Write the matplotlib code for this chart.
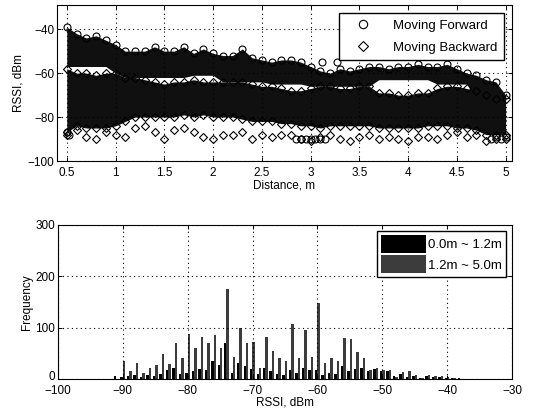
import numpy as np
import matplotlib
matplotlib.use("Agg")
import matplotlib.pyplot as plt
import matplotlib.transforms as mtransforms

plt.rcParams["font.family"] = ["Liberation Sans", "DejaVu Sans"]
plt.rcParams["font.size"] = 8.5

# ---- top plot: RSSI vs distance (envelopes, every 0.1 m) ----
distance = np.round(np.arange(0.5, 5.01, 0.1), 2)

fwd_top = [-39, -42, -44, -43, -45, -47, -50, -50, -50, -48,
           -50, -50, -48, -51, -49, -51, -52, -52, -49, -53,
           -54, -55, -54, -54, -55, -57, -59, -60, -58, -59,
           -58, -57, -57, -58, -57, -57, -56, -57, -57, -56,
           -58, -60, -61, -63, -64, -70]
fwd_low = [-57, -57, -57, -57, -57, -60, -62, -62, -62, -62,
           -62, -62, -62, -61, -61, -61, -64, -64, -64, -64,
           -64, -65, -65, -65, -65, -66, -66, -66, -66, -66,
           -66, -66, -63, -63, -63, -63, -63, -63, -65, -65,
           -65, -65, -72, -72, -72, -72]
bwd_top = [-58, -60, -60, -61, -60, -60, -62, -62, -63, -64,
           -65, -64, -64, -63, -64, -64, -64, -64, -64, -65,
           -66, -66, -67, -68, -68, -67, -66, -66, -67, -67,
           -66, -66, -69, -69, -70, -70, -69, -69, -67, -66,
           -66, -67, -68, -70, -72, -72]
bwd_core = [-87, -84, -85, -85, -85, -84, -82, -80, -80, -80,
            -80, -80, -79, -80, -79, -80, -80, -80, -81, -82,
            -82, -82, -83, -83, -84, -84, -85, -84, -84, -84,
            -84, -84, -85, -85, -85, -85, -85, -84, -84, -84,
            -85, -85, -86, -88, -88, -88]
bwd_low = [-88, -86, -89, -90, -87, -88, -89, -85, -84, -87,
           -90, -86, -85, -87, -89, -90, -88, -88, -87, -90,
           -88, -89, -88, -88, -90, -91, -89, -88, -90, -91,
           -89, -88, -90, -89, -90, -91, -89, -89, -90, -88,
           -87, -89, -88, -91, -90, -90]

# isolated forward readings
fwd_out_d = [0.5, 0.52, 2.85, 2.9, 2.95, 3.0, 3.05, 3.1, 3.15, 3.12, 3.27, 4.85, 4.9, 4.95, 5.0]
fwd_out_v = [-87, -88, -90, -90, -90, -90, -90, -90, -90, -55, -55, -90, -89, -90, -89]

# ---- bottom plot: histogram counts per 1 dBm bin ----
rssi_bins = np.arange(-91, -37)
near_counts = [5, 3, 5, 8, 4, 8, 6, 10, 18, 22,
               10, 12, 15, 20, 18, 35, 28, 70, 12, 32,
               25, 20, 10, 22, 15, 10, 8, 18, 12, 22,
               18, 18, 8, 12, 10, 25, 15, 20, 22, 15,
               20, 15, 15, 5, 10, 4, 5, 2, 6, 3,
               3, 2, 1, 1]
far_counts = [0, 35, 15, 32, 12, 22, 27, 48, 30, 70,
              40, 88, 60, 82, 70, 85, 60, 175, 42, 100,
              70, 72, 22, 82, 55, 40, 35, 108, 40, 95,
              42, 148, 32, 40, 35, 80, 78, 52, 40, 18,
              22, 18, 18, 3, 14, 15, 8, 2, 7, 5,
              5, 3, 2, 0]

W, H = 535, 417
fig = plt.figure(figsize=(W / 100, H / 100), dpi=100)
fig.patch.set_facecolor("white")


def style_axes(ax):
    ax.grid(True, color="black", linestyle=(0, (1, 3)), linewidth=0.8)
    ax.set_axisbelow(False)
    ax.tick_params(direction="in", length=3, top=True, right=True, width=0.7, pad=2)
    ax.tick_params(axis="x", pad=4)
    for s in ax.spines.values():
        s.set_linewidth(0.8)


# top axes
ax1 = fig.add_axes([57 / W, 1 - 161 / H, (512 - 57) / W, (161 - 5) / H])
ax1.fill_between(distance, fwd_low, fwd_top, color="#101010", lw=0, zorder=1)
ax1.fill_between(distance, bwd_core, bwd_top, color="#101010", lw=0, zorder=1)
mk = dict(linestyle="none", mfc="none", mec="black", mew=0.8, ms=5, zorder=2)
ax1.plot(distance, fwd_top, marker="o", **mk)
ax1.plot(distance, bwd_top, marker="D", **dict(mk, ms=4.2))
ax1.plot(distance, bwd_core, marker="D", **dict(mk, ms=4.2))
ax1.plot(distance, bwd_low, marker="D", **dict(mk, ms=4.2))
ax1.plot(fwd_out_d, fwd_out_v, marker="o", **mk)
h1, = ax1.plot([], [], marker="o", linestyle="none", mfc="none", mec="black", mew=0.8, ms=6)
h2, = ax1.plot([], [], marker="D", linestyle="none", mfc="none", mec="black", mew=0.8, ms=5)
ax1.legend([h1, h2], ["Moving Forward", "Moving Backward"], loc="upper right",
           fancybox=False, edgecolor="black", framealpha=1, handlelength=2.6,
           handletextpad=1.0, borderaxespad=0.6, borderpad=0.5, labelspacing=0.75,
           fontsize=9.5)
ax1.set_xlim(0.4, 5.065)
ax1.set_ylim(-100, -29)
ax1.set_xticks([0.5, 1, 1.5, 2, 2.5, 3, 3.5, 4, 4.5, 5])
ax1.set_xticklabels(["0.5", "1", "1.5", "2", "2.5", "3", "3.5", "4", "4.5", "5"])
ax1.set_yticks([-100, -80, -60, -40])
ax1.set_xlabel("Distance, m", labelpad=1)
ax1.set_ylabel("RSSI, dBm", labelpad=2)
style_axes(ax1)

# bottom axes
ax2 = fig.add_axes([58 / W, 1 - 379 / H, (512 - 58) / W, (379 - 225) / H])
ax2.bar(rssi_bins - 0.2, near_counts, width=0.38, color="black", lw=0, label="0.0m ~ 1.2m", zorder=2)
ax2.bar(rssi_bins + 0.17, far_counts, width=0.38, color="#3c3c3c", lw=0, label="1.2m ~ 5.0m", zorder=2)
ax2.legend(loc="upper right", fancybox=False, edgecolor="black", framealpha=1,
           handlelength=3.4, handleheight=1.7, handletextpad=0.2, labelspacing=0.2,
           borderaxespad=0.45, borderpad=0.3, fontsize=9.5)
ax2.set_xlim(-100, -30)
ax2.set_ylim(0, 300)
ax2.set_xticks(np.arange(-100, -29, 10))
ax2.set_yticks([0, 100, 200, 300])
ax2.set_xlabel("RSSI, dBm", labelpad=0)
ax2.set_ylabel("Frequency", labelpad=2)
style_axes(ax2)

# lift the "0" label a little so it clears "-100"
lbl0 = ax2.get_yticklabels()[0]
lbl0.set_transform(lbl0.get_transform() +
                   mtransforms.ScaledTranslation(0, 2.5 / 72, fig.dpi_scale_trans))

fig.savefig("out.png", dpi=100)
